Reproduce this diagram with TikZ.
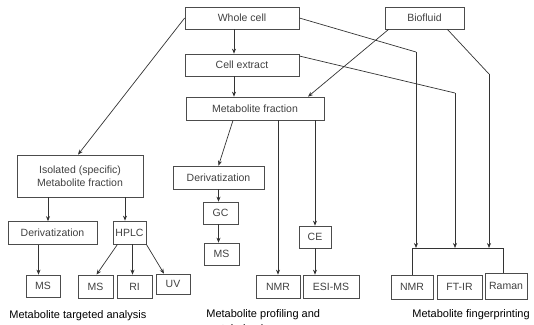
\documentclass[tikz,border=0pt]{standalone}
\usepackage{fontspec}
\setmainfont{Liberation Sans}
\usetikzlibrary{arrows.meta}
\begin{document}
\begin{tikzpicture}[x=1pt,y=-1pt,>={Stealth[length=5pt,width=4pt]},line width=0.7pt,
  box/.style={draw=black!70,inner sep=0pt,minimum height=22pt,font=\fontsize{10.5}{12.5}\selectfont,text=black!75},
  caption/.style={font=\fontsize{11}{13}\selectfont,anchor=west,inner sep=0pt}]
\useasboundingbox (0,0) rectangle (534,324);
\clip (0,0) rectangle (534,324);
% sources
\node[box,minimum width=114pt] (wc) at (242,18) {Whole cell};
\node[box,minimum width=79pt] (bf) at (424.5,18) {Biofluid};
\node[box,minimum width=114pt] (cext) at (242,65) {Cell extract};
\node[box,minimum width=138pt,minimum height=23pt] (mf) at (255,108.5) {Metabolite fraction};
% targeted analysis
\node[box,minimum width=126pt,minimum height=42pt,align=center] (iso) at (80,176) {Isolated (specific)\\Metabolite fraction};
\node[box,minimum width=89pt,minimum height=23pt] (der1) at (52.5,233) {Derivatization};
\node[box,minimum width=33pt,minimum height=23pt] (hplc) at (129.5,232.5) {HPLC};
\node[box,minimum width=34pt] (ms1) at (43,286) {MS};
\node[box,minimum width=35pt,minimum height=23pt] (ms2) at (95.5,286.5) {MS};
\node[box,minimum width=35pt,minimum height=23pt] (ri) at (134.5,286.5) {RI};
\node[box,minimum width=34pt,minimum height=20pt] (uv) at (173,284) {UV};
% profiling
\node[box,minimum width=91pt,minimum height=23pt] (der2) at (218.5,177.5) {Derivatization};
\node[box,minimum width=35pt] (gc) at (220.5,213) {GC};
\node[box,minimum width=35pt] (ms3) at (221.5,254) {MS};
\node[box,minimum width=32pt] (ce) at (315,237) {CE};
\node[box,minimum width=44pt,minimum height=23pt] (nmr1) at (278,286.5) {NMR};
\node[box,minimum width=56pt,minimum height=23pt] (esi) at (331,286.5) {ESI-MS};
% fingerprinting
\node[box,minimum width=42pt,minimum height=24pt] (nmr2) at (412,287) {NMR};
\node[box,minimum width=45pt,minimum height=24pt] (ftir) at (459.5,287) {FT-IR};
\node[box,minimum width=42pt,minimum height=26pt] (ram) at (506,286) {Raman};
% captions
\node[caption] (lta) at (9,316) {Metabolite targeted analysis};
\node[caption] (lpm) at (206,315) {Metabolite profiling and};
\node[caption] (lpm2) at (206,329) {metabolomics};
\node[caption] (lfp) at (412,315) {Metabolite fingerprinting};
% bends
\coordinate (fp1) at (416,52);
\coordinate (fp2) at (455,93);
\coordinate (fp3) at (489,74);
\coordinate (barl) at (412,248);
\coordinate (barr) at (503,248);
\begin{scope}[draw=black!80]
\draw[->] ([xshift=-8pt]wc.south) -- ([xshift=-8pt]cext.north);
\draw[->] ([xshift=-8pt]cext.south) -- ([xshift=-8pt]cext.south |- mf.north);
\draw[->] (wc.west) -- ([xshift=-2pt]iso.north);
\draw[->] ([xshift=4pt]bf.south west) -- ([xshift=53pt]mf.north);
\draw[->] ([xshift=-22pt]mf.south) -- (der2.north);
\draw[->] (mf.south -| nmr1.north) -- (nmr1.north);
\draw[->] (mf.south -| ce.north) -- (ce.north);
\draw[->] ([xshift=-2pt]gc.north |- der2.south) -- ([xshift=-2pt]gc.north);
\draw[->] ([xshift=-2pt]gc.south) -- ([xshift=-2pt]gc.south |- ms3.north);
\draw[->] (ce.south) -- (ce.south |- esi.north);
\draw[->] ([xshift=-32pt]iso.south) -- ([xshift=-32pt]iso.south |- der1.north);
\draw[->] ([xshift=45pt]iso.south) -- ([xshift=45pt]iso.south |- hplc.north);
\draw[->] ([xshift=-14pt]der1.south) -- ([xshift=-14pt]der1.south |- ms1.north);
\draw[->] ([xshift=-12pt]hplc.south) -- ([xshift=1pt]ms2.north);
\draw[->] ([xshift=3pt]hplc.south) -- ([xshift=3pt]hplc.south |- ri.north);
\draw[->] (hplc.south east) -- ([xshift=-9pt]uv.north);
\draw (wc.east) -- (fp1);
\draw[->] (fp1) -- (fp1 |- barl);
\draw ([yshift=9pt]cext.east) -- (fp2);
\draw[->] (fp2) -- (fp2 |- barl);
\draw ([xshift=-17pt]bf.south east) -- (fp3);
\draw[->] (fp3) -- (fp3 |- barl);
\draw (nmr2.north) -- (barl) -- (barr) -- (barr |- ram.north);
\end{scope}
\end{tikzpicture}
\end{document}
